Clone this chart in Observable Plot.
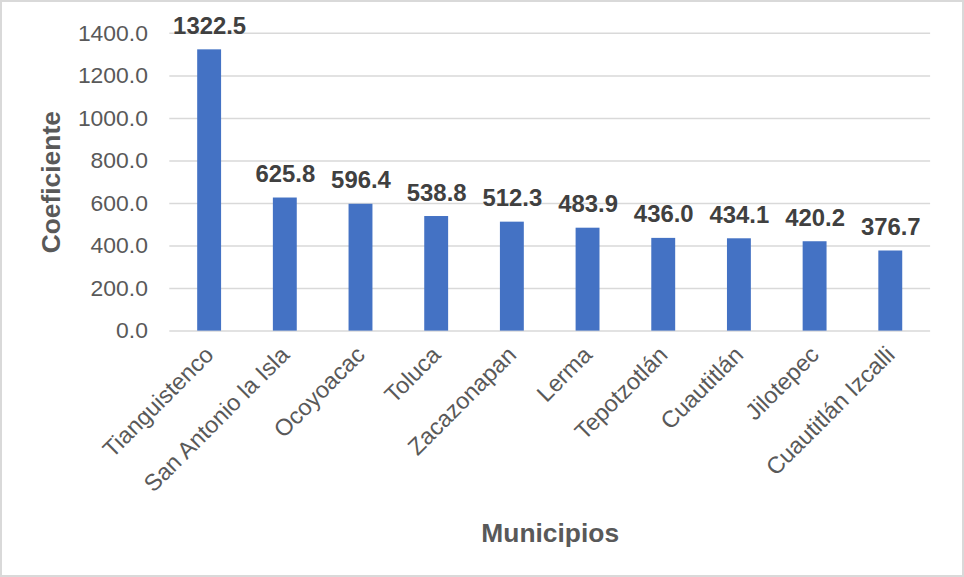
<!DOCTYPE html>
<html>
<head>
<meta charset="utf-8">
<script src="https://cdn.jsdelivr.net/npm/d3@7"></script>
<script src="https://cdn.jsdelivr.net/npm/@observablehq/plot@0.6"></script>
<style>
  html, body { margin: 0; padding: 0; background: #fff; }
  #chart { width: 960px; height: 573px; border: 2px solid #d9d9d9; position: relative; overflow: hidden; }
  #chart svg { position: absolute; left: -2px; top: -2px; }
  [aria-label="y-axis tick label"] text { fill: #595959; font-size: 23px; }
  [aria-label="x-axis tick label"] text { fill: #595959; font-size: 23.5px; }
  [aria-label="y-axis label"] text, [aria-label="x-axis label"] text { font-weight: bold; font-size: 26.5px; fill: #595959; }
</style>
</head>
<body>
<div id="chart"></div>
<script>
const municipios = ["Tianguistenco", "San Antonio la Isla", "Ocoyoacac", "Toluca", "Zacazonapan", "Lerma", "Tepotzotlán", "Cuautitlán", "Jilotepec", "Cuautitlán Izcalli"];
const coeficientes = [1322.5, 625.8, 596.4, 538.8, 512.3, 483.9, 436.0, 434.1, 420.2, 376.7];
const yTicks = [0, 200, 400, 600, 800, 1000, 1200, 1400];

const data = municipios.map((m, i) => ({municipio: m, valor: coeficientes[i]}));

const chart = Plot.plot({
  width: 964,
  height: 577,
  marginLeft: 170,
  marginRight: 30,
  marginTop: 33,
  marginBottom: 245,
  style: { fontFamily: "'Liberation Sans', Arial, sans-serif", fontSize: "22px", color: "#595959", background: "transparent" },
  x: { domain: municipios, paddingInner: 0.69, paddingOuter: 0.345, label: "Municipios" },
  y: { domain: [0, 1400], label: "Coeficiente" },
  marks: [
    Plot.gridY(yTicks, { stroke: "#d9d9d9", strokeOpacity: 1, strokeWidth: 1.5 }),
    Plot.axisY({ ticks: yTicks, tickFormat: d3.format(".1f"), tickSize: 0, tickPadding: 22, label: "Coeficiente", labelAnchor: "center", labelArrow: "none", labelOffset: 129 }),
    Plot.axisX({ tickSize: 0, tickRotate: -45, tickPadding: 20, label: "Municipios", labelAnchor: "center", labelOffset: 212 }),
    Plot.barY(data, { x: "municipio", y: "valor", fill: "#4472C4" }),
    Plot.text(data, { x: "municipio", y: "valor", text: d => d.valor.toFixed(1), lineAnchor: "bottom", dy: -16, fontWeight: "bold", fontSize: 24, fill: "#404040" })
  ]
});
document.getElementById("chart").appendChild(chart);
</script>
</body>
</html>
